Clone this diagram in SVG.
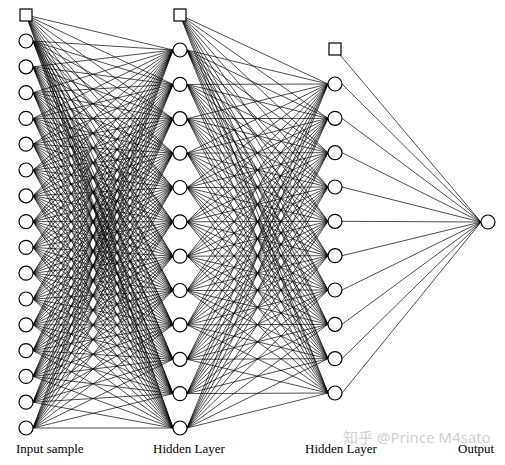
<svg xmlns="http://www.w3.org/2000/svg" width="505" height="465" viewBox="0 0 505 465">
<style>
.c{fill:#fff;stroke:#000;stroke-width:1.2}
.e{fill:none;stroke:#000;stroke-width:0.7}
.t{font-family:"Liberation Serif","Times New Roman",serif;font-size:13px;fill:#000}
.w{font-family:"Noto Sans","Noto Sans CJK SC",sans-serif;font-size:15px;fill:#c4c4c4;fill-opacity:0.8}
</style>
<rect width="505" height="465" fill="#fff"/>
<g id="connectors" class="e">
<path d="M26 15L173 50M26 15L173 84.4M26 15L173 118.7M26 15L173 153.1M26 15L173 187.5M26 15L173 221.8M26 15L173 256.2M26 15L173 290.5M26 15L173 324.9M26 15L173 359.3M26 15L173 393.6M26 15L173 428"/>
<path d="M33 41L173 50M33 41L173 84.4M33 41L173 118.7M33 41L173 153.1M33 41L173 187.5M33 41L173 221.8M33 41L173 256.2M33 41L173 290.5M33 41L173 324.9M33 41L173 359.3M33 41L173 393.6M33 41L173 428"/>
<path d="M33 66.8L173 50M33 66.8L173 84.4M33 66.8L173 118.7M33 66.8L173 153.1M33 66.8L173 187.5M33 66.8L173 221.8M33 66.8L173 256.2M33 66.8L173 290.5M33 66.8L173 324.9M33 66.8L173 359.3M33 66.8L173 393.6M33 66.8L173 428"/>
<path d="M33 92.6L173 50M33 92.6L173 84.4M33 92.6L173 118.7M33 92.6L173 153.1M33 92.6L173 187.5M33 92.6L173 221.8M33 92.6L173 256.2M33 92.6L173 290.5M33 92.6L173 324.9M33 92.6L173 359.3M33 92.6L173 393.6M33 92.6L173 428"/>
<path d="M33 118.4L173 50M33 118.4L173 84.4M33 118.4L173 118.7M33 118.4L173 153.1M33 118.4L173 187.5M33 118.4L173 221.8M33 118.4L173 256.2M33 118.4L173 290.5M33 118.4L173 324.9M33 118.4L173 359.3M33 118.4L173 393.6M33 118.4L173 428"/>
<path d="M33 144.2L173 50M33 144.2L173 84.4M33 144.2L173 118.7M33 144.2L173 153.1M33 144.2L173 187.5M33 144.2L173 221.8M33 144.2L173 256.2M33 144.2L173 290.5M33 144.2L173 324.9M33 144.2L173 359.3M33 144.2L173 393.6M33 144.2L173 428"/>
<path d="M33 170L173 50M33 170L173 84.4M33 170L173 118.7M33 170L173 153.1M33 170L173 187.5M33 170L173 221.8M33 170L173 256.2M33 170L173 290.5M33 170L173 324.9M33 170L173 359.3M33 170L173 393.6M33 170L173 428"/>
<path d="M33 195.8L173 50M33 195.8L173 84.4M33 195.8L173 118.7M33 195.8L173 153.1M33 195.8L173 187.5M33 195.8L173 221.8M33 195.8L173 256.2M33 195.8L173 290.5M33 195.8L173 324.9M33 195.8L173 359.3M33 195.8L173 393.6M33 195.8L173 428"/>
<path d="M33 221.6L173 50M33 221.6L173 84.4M33 221.6L173 118.7M33 221.6L173 153.1M33 221.6L173 187.5M33 221.6L173 221.8M33 221.6L173 256.2M33 221.6L173 290.5M33 221.6L173 324.9M33 221.6L173 359.3M33 221.6L173 393.6M33 221.6L173 428"/>
<path d="M33 247.4L173 50M33 247.4L173 84.4M33 247.4L173 118.7M33 247.4L173 153.1M33 247.4L173 187.5M33 247.4L173 221.8M33 247.4L173 256.2M33 247.4L173 290.5M33 247.4L173 324.9M33 247.4L173 359.3M33 247.4L173 393.6M33 247.4L173 428"/>
<path d="M33 273.2L173 50M33 273.2L173 84.4M33 273.2L173 118.7M33 273.2L173 153.1M33 273.2L173 187.5M33 273.2L173 221.8M33 273.2L173 256.2M33 273.2L173 290.5M33 273.2L173 324.9M33 273.2L173 359.3M33 273.2L173 393.6M33 273.2L173 428"/>
<path d="M33 299L173 50M33 299L173 84.4M33 299L173 118.7M33 299L173 153.1M33 299L173 187.5M33 299L173 221.8M33 299L173 256.2M33 299L173 290.5M33 299L173 324.9M33 299L173 359.3M33 299L173 393.6M33 299L173 428"/>
<path d="M33 324.8L173 50M33 324.8L173 84.4M33 324.8L173 118.7M33 324.8L173 153.1M33 324.8L173 187.5M33 324.8L173 221.8M33 324.8L173 256.2M33 324.8L173 290.5M33 324.8L173 324.9M33 324.8L173 359.3M33 324.8L173 393.6M33 324.8L173 428"/>
<path d="M33 350.6L173 50M33 350.6L173 84.4M33 350.6L173 118.7M33 350.6L173 153.1M33 350.6L173 187.5M33 350.6L173 221.8M33 350.6L173 256.2M33 350.6L173 290.5M33 350.6L173 324.9M33 350.6L173 359.3M33 350.6L173 393.6M33 350.6L173 428"/>
<path d="M33 376.4L173 50M33 376.4L173 84.4M33 376.4L173 118.7M33 376.4L173 153.1M33 376.4L173 187.5M33 376.4L173 221.8M33 376.4L173 256.2M33 376.4L173 290.5M33 376.4L173 324.9M33 376.4L173 359.3M33 376.4L173 393.6M33 376.4L173 428"/>
<path d="M33 402.2L173 50M33 402.2L173 84.4M33 402.2L173 118.7M33 402.2L173 153.1M33 402.2L173 187.5M33 402.2L173 221.8M33 402.2L173 256.2M33 402.2L173 290.5M33 402.2L173 324.9M33 402.2L173 359.3M33 402.2L173 393.6M33 402.2L173 428"/>
<path d="M33 428L173 50M33 428L173 84.4M33 428L173 118.7M33 428L173 153.1M33 428L173 187.5M33 428L173 221.8M33 428L173 256.2M33 428L173 290.5M33 428L173 324.9M33 428L173 359.3M33 428L173 393.6M33 428L173 428"/>
<path d="M180 15L328 84M180 15L328 118.3M180 15L328 152.7M180 15L328 187M180 15L328 221.3M180 15L328 255.7M180 15L328 290M180 15L328 324.3M180 15L328 358.7M180 15L328 393"/>
<path d="M187 50L328 84M187 50L328 118.3M187 50L328 152.7M187 50L328 187M187 50L328 221.3M187 50L328 255.7M187 50L328 290M187 50L328 324.3M187 50L328 358.7M187 50L328 393"/>
<path d="M187 84.4L328 84M187 84.4L328 118.3M187 84.4L328 152.7M187 84.4L328 187M187 84.4L328 221.3M187 84.4L328 255.7M187 84.4L328 290M187 84.4L328 324.3M187 84.4L328 358.7M187 84.4L328 393"/>
<path d="M187 118.7L328 84M187 118.7L328 118.3M187 118.7L328 152.7M187 118.7L328 187M187 118.7L328 221.3M187 118.7L328 255.7M187 118.7L328 290M187 118.7L328 324.3M187 118.7L328 358.7M187 118.7L328 393"/>
<path d="M187 153.1L328 84M187 153.1L328 118.3M187 153.1L328 152.7M187 153.1L328 187M187 153.1L328 221.3M187 153.1L328 255.7M187 153.1L328 290M187 153.1L328 324.3M187 153.1L328 358.7M187 153.1L328 393"/>
<path d="M187 187.5L328 84M187 187.5L328 118.3M187 187.5L328 152.7M187 187.5L328 187M187 187.5L328 221.3M187 187.5L328 255.7M187 187.5L328 290M187 187.5L328 324.3M187 187.5L328 358.7M187 187.5L328 393"/>
<path d="M187 221.8L328 84M187 221.8L328 118.3M187 221.8L328 152.7M187 221.8L328 187M187 221.8L328 221.3M187 221.8L328 255.7M187 221.8L328 290M187 221.8L328 324.3M187 221.8L328 358.7M187 221.8L328 393"/>
<path d="M187 256.2L328 84M187 256.2L328 118.3M187 256.2L328 152.7M187 256.2L328 187M187 256.2L328 221.3M187 256.2L328 255.7M187 256.2L328 290M187 256.2L328 324.3M187 256.2L328 358.7M187 256.2L328 393"/>
<path d="M187 290.5L328 84M187 290.5L328 118.3M187 290.5L328 152.7M187 290.5L328 187M187 290.5L328 221.3M187 290.5L328 255.7M187 290.5L328 290M187 290.5L328 324.3M187 290.5L328 358.7M187 290.5L328 393"/>
<path d="M187 324.9L328 84M187 324.9L328 118.3M187 324.9L328 152.7M187 324.9L328 187M187 324.9L328 221.3M187 324.9L328 255.7M187 324.9L328 290M187 324.9L328 324.3M187 324.9L328 358.7M187 324.9L328 393"/>
<path d="M187 359.3L328 84M187 359.3L328 118.3M187 359.3L328 152.7M187 359.3L328 187M187 359.3L328 221.3M187 359.3L328 255.7M187 359.3L328 290M187 359.3L328 324.3M187 359.3L328 358.7M187 359.3L328 393"/>
<path d="M187 393.6L328 84M187 393.6L328 118.3M187 393.6L328 152.7M187 393.6L328 187M187 393.6L328 221.3M187 393.6L328 255.7M187 393.6L328 290M187 393.6L328 324.3M187 393.6L328 358.7M187 393.6L328 393"/>
<path d="M187 428L328 84M187 428L328 118.3M187 428L328 152.7M187 428L328 187M187 428L328 221.3M187 428L328 255.7M187 428L328 290M187 428L328 324.3M187 428L328 358.7M187 428L328 393"/>
<path d="M335 49L481 222M342 84L481 222M342 118.3L481 222M342 152.7L481 222M342 187L481 222M342 221.3L481 222M342 255.7L481 222M342 290L481 222M342 324.3L481 222M342 358.7L481 222M342 393L481 222"/>
</g>
<g id="input-layer">
<g id="in-bias"><rect class="c" x="20" y="9" width="12" height="12"/></g>
<g id="in1"><circle class="c" cx="26" cy="41" r="7"/></g>
<g id="in2"><circle class="c" cx="26" cy="66.8" r="7"/></g>
<g id="in3"><circle class="c" cx="26" cy="92.6" r="7"/></g>
<g id="in4"><circle class="c" cx="26" cy="118.4" r="7"/></g>
<g id="in5"><circle class="c" cx="26" cy="144.2" r="7"/></g>
<g id="in6"><circle class="c" cx="26" cy="170" r="7"/></g>
<g id="in7"><circle class="c" cx="26" cy="195.8" r="7"/></g>
<g id="in8"><circle class="c" cx="26" cy="221.6" r="7"/></g>
<g id="in9"><circle class="c" cx="26" cy="247.4" r="7"/></g>
<g id="in10"><circle class="c" cx="26" cy="273.2" r="7"/></g>
<g id="in11"><circle class="c" cx="26" cy="299" r="7"/></g>
<g id="in12"><circle class="c" cx="26" cy="324.8" r="7"/></g>
<g id="in13"><circle class="c" cx="26" cy="350.6" r="7"/></g>
<g id="in14"><circle class="c" cx="26" cy="376.4" r="7"/></g>
<g id="in15"><circle class="c" cx="26" cy="402.2" r="7"/></g>
<g id="in16"><circle class="c" cx="26" cy="428" r="7"/></g>
</g>
<g id="hidden-layer-1">
<g id="h1-bias"><rect class="c" x="174" y="9" width="12" height="12"/></g>
<g id="h1-1"><circle class="c" cx="180" cy="50" r="7"/></g>
<g id="h1-2"><circle class="c" cx="180" cy="84.4" r="7"/></g>
<g id="h1-3"><circle class="c" cx="180" cy="118.7" r="7"/></g>
<g id="h1-4"><circle class="c" cx="180" cy="153.1" r="7"/></g>
<g id="h1-5"><circle class="c" cx="180" cy="187.5" r="7"/></g>
<g id="h1-6"><circle class="c" cx="180" cy="221.8" r="7"/></g>
<g id="h1-7"><circle class="c" cx="180" cy="256.2" r="7"/></g>
<g id="h1-8"><circle class="c" cx="180" cy="290.5" r="7"/></g>
<g id="h1-9"><circle class="c" cx="180" cy="324.9" r="7"/></g>
<g id="h1-10"><circle class="c" cx="180" cy="359.3" r="7"/></g>
<g id="h1-11"><circle class="c" cx="180" cy="393.6" r="7"/></g>
<g id="h1-12"><circle class="c" cx="180" cy="428" r="7"/></g>
</g>
<g id="hidden-layer-2">
<g id="h2-bias"><rect class="c" x="329" y="43" width="12" height="12"/></g>
<g id="h2-1"><circle class="c" cx="335" cy="84" r="7"/></g>
<g id="h2-2"><circle class="c" cx="335" cy="118.3" r="7"/></g>
<g id="h2-3"><circle class="c" cx="335" cy="152.7" r="7"/></g>
<g id="h2-4"><circle class="c" cx="335" cy="187" r="7"/></g>
<g id="h2-5"><circle class="c" cx="335" cy="221.3" r="7"/></g>
<g id="h2-6"><circle class="c" cx="335" cy="255.7" r="7"/></g>
<g id="h2-7"><circle class="c" cx="335" cy="290" r="7"/></g>
<g id="h2-8"><circle class="c" cx="335" cy="324.3" r="7"/></g>
<g id="h2-9"><circle class="c" cx="335" cy="358.7" r="7"/></g>
<g id="h2-10"><circle class="c" cx="335" cy="393" r="7"/></g>
</g>
<g id="output-node"><circle class="c" cx="488" cy="222" r="7"/></g>
<g id="labels">
<text class="t" x="16" y="452.5">Input sample</text>
<text class="t" x="153" y="452.5">Hidden Layer</text>
<text class="t" x="305" y="452.5">Hidden Layer</text>
<text class="t" x="458" y="452.5">Output</text>
<text class="w" x="343" y="443">知乎 @Prince M4sato</text>
</g>
</svg>
